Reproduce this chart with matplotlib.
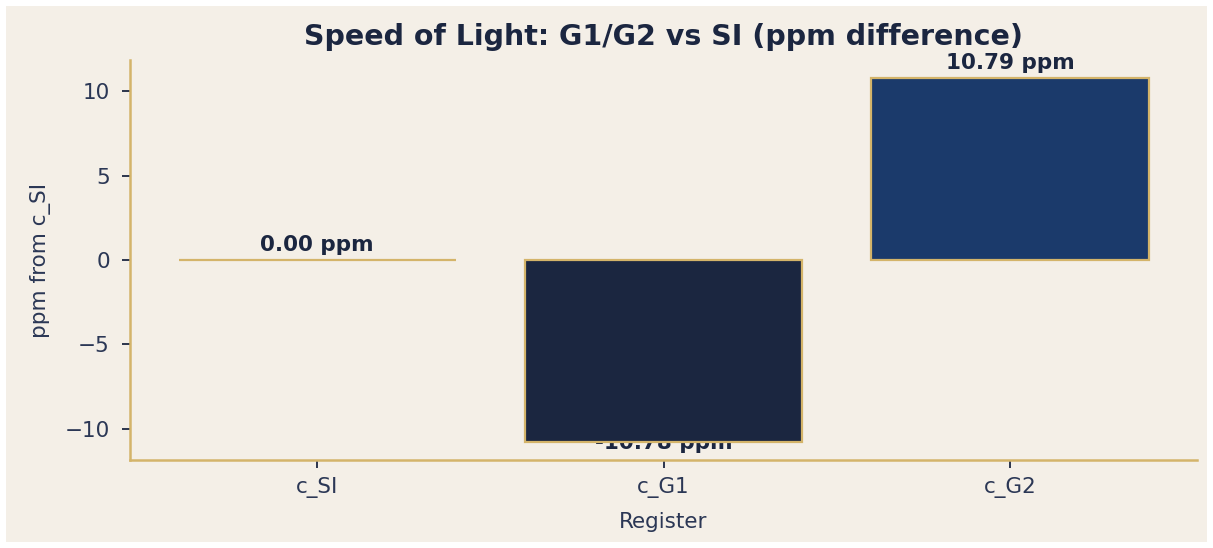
import matplotlib
matplotlib.use("Agg")
import matplotlib.pyplot as plt
from matplotlib.patches import Rectangle

registers = ["c_SI", "c_G1", "c_G2"]
ppm_diff = [0.00, -10.78, 10.79]
labels = ["0.00 ppm", "-10.78 ppm", "10.79 ppm"]

bg = "#f4efe7"
navy = "#1b2640"
gold = "#d4b46a"
txt = "#2b3755"
bar_colors = [bg, "#1b2640", "#1b3a6b"]

fig = plt.figure(figsize=(12.13, 5.48), dpi=100, facecolor="white")
fig.patches.append(Rectangle((6 / 1213, 6 / 548), 1201 / 1213, 536 / 548,
                             transform=fig.transFigure, facecolor=bg,
                             edgecolor="none", zorder=-10))
ax = fig.add_axes([130 / 1213, 88 / 548, 1067 / 1213, 400 / 548])
ax.set_facecolor(bg)

x = range(len(registers))
ax.bar(x, ppm_diff, width=0.8, color=bar_colors, edgecolor=gold, linewidth=1.6, zorder=2)

for xi, h, lab in zip(x, ppm_diff, labels):
    y = h + 0.3 if h >= 0 else h - 0.68
    ax.text(xi, y, lab, ha="center", va="bottom", fontsize=15.5,
            fontweight="bold", color=navy, zorder=1)

top = max(abs(v) for v in ppm_diff) * 1.1
ax.set_ylim(-top, top)
ax.set_xticks(list(x))
ax.set_xticklabels(registers)
ax.set_yticks([-10, -5, 0, 5, 10])

for s in ["top", "right"]:
    ax.spines[s].set_visible(False)
for s in ["left", "bottom"]:
    ax.spines[s].set_color(gold)
    ax.spines[s].set_linewidth(1.8)

ax.tick_params(colors=navy, labelcolor=txt, labelsize=15.5, length=5.5, width=1.3)
ax.tick_params(axis="y", pad=9)
ax.tick_params(axis="x", pad=6.5)
ax.set_xlabel("Register", fontsize=15.5, color=txt, labelpad=10)
ax.set_ylabel("ppm from c_SI", fontsize=15.5, color=txt, labelpad=9.5)
ax.set_title("Speed of Light: G1/G2 vs SI (ppm difference)", fontsize=20.5,
             fontweight="bold", color=navy, pad=11)

fig.savefig("out.png", dpi=100, facecolor=fig.get_facecolor())
